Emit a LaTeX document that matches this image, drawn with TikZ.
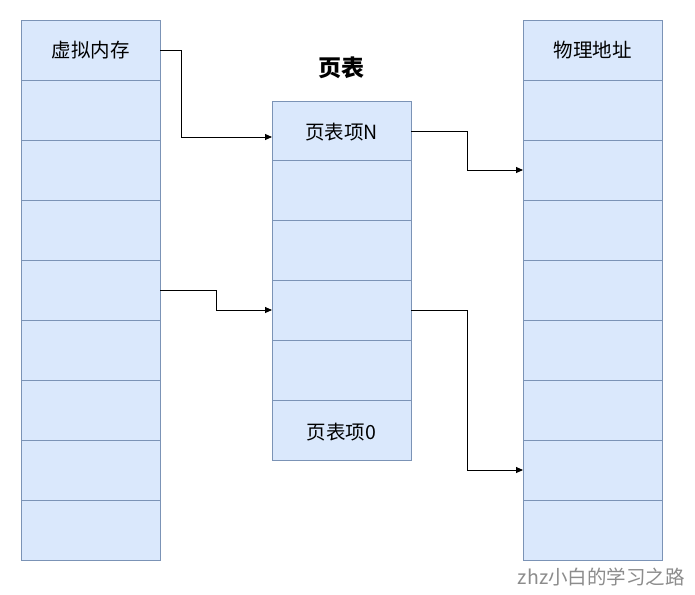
\documentclass[tikz,border=0pt]{standalone}
\usepackage{fontspec}
\setmainfont{Noto Sans CJK SC}
\usetikzlibrary{arrows.meta}
\definecolor{cellfill}{HTML}{DAE8FC}
\definecolor{celldraw}{HTML}{7B93B6}
\tikzset{
  cell/.style={draw=celldraw, fill=cellfill, line width=0.8pt},
  lbl/.style={font=\fontsize{19.5}{19.5}\selectfont, text=black, inner sep=0pt},
  conn/.style={draw=black, line width=0.9pt, -{Triangle[length=7pt,width=6pt]}},
}
\begin{document}
\begin{tikzpicture}[x=1pt,y=-1pt]
\useasboundingbox (0,0) rectangle (695,594);
\fill[white] (0,0) rectangle (695,594);
% left column: virtual memory
\foreach \i in {0,...,8} {
  \path[cell] (21,{20+60*\i}) rectangle (160,{80+60*\i});
}
% right column: physical address
\foreach \i in {0,...,8} {
  \path[cell] (523,{20+60*\i}) rectangle (662,{80+60*\i});
}
% middle column: page table
\foreach \i in {0,...,5} {
  \path[cell] (272,{101+59.83*\i}) rectangle (411,{101+59.83*(\i+1)});
}
% labels
\node[lbl] (vm) at (90.5,50) {虚拟内存};
\node[lbl] (pa) at (592.5,50) {物理地址};
\node[lbl] (pn) at (341.5,132) {页表项N};
\node[lbl] (p0) at (341.5,432) {页表项0};
\node[font=\fontsize{23}{23}\selectfont\bfseries, inner sep=0pt] (title) at (341.5,68) {页表};
\node[font=\fontsize{19.5}{19.5}\selectfont, text=black!45, inner sep=0pt, anchor=east] (wm) at (685,577) {zhz小白的学习之路};
% connector anchors
\coordinate (a1s) at (160,50);
\coordinate (a1e) at (272,137);
\coordinate (a2s) at (160,290);
\coordinate (a2e) at (272,310);
\coordinate (a3s) at (411,131);
\coordinate (a3e) at (523,170);
\coordinate (a4s) at (411,310);
\coordinate (a4e) at (523,470);
\draw[conn] (a1s) -- (181,50) -- (181,137) -- (a1e);
\draw[conn] (a2s) -- (216.5,290) -- (216.5,310) -- (a2e);
\draw[conn] (a3s) -- (467.5,131) -- (467.5,170) -- (a3e);
\draw[conn] (a4s) -- (467.5,310) -- (467.5,470) -- (a4e);
\end{tikzpicture}
\end{document}
